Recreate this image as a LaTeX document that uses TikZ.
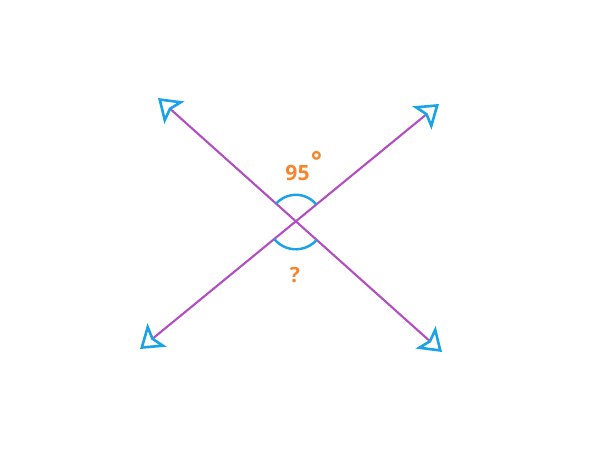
\documentclass[tikz,border=0pt]{standalone}
\usepackage{fontspec}
\setmainfont{Open Sans}
\usetikzlibrary{arrows.meta}

\definecolor{linepurple}{HTML}{B24EC2}
\definecolor{tipblue}{HTML}{1BA3E6}
\definecolor{labelorange}{HTML}{F5862E}

\tikzset{
	ray/.style={linepurple, line width=1.2pt,
		{Stealth[open, length=0.44cm, width=0.6cm, inset=0.09cm, line width=1.5pt, color=tipblue]}-{Stealth[open, length=0.44cm, width=0.6cm, inset=0.09cm, line width=1.5pt, color=tipblue]}},
	anglemark/.style={tipblue, line width=1.4pt},
	anglelabel/.style={labelorange, font=\fontsize{12}{14}\selectfont\bfseries, inner sep=0pt}
}

\begin{document}
\begin{tikzpicture}
				\useasboundingbox (0,0) rectangle (12,9);

				\coordinate (tl) at (3.16,7.04);
				\coordinate (br) at (8.84,1.96);
				\coordinate (bl) at (2.80,2.02);
				\coordinate (tr) at (8.78,6.92);
				\coordinate (O) at (intersection of tl--br and bl--tr);

				\draw [ray] (tl) -- (br);
				\draw [ray] (bl) -- (tr);

				\draw [anglemark] ([shift={(39.3:0.53)}]O) arc (39.3:138.3:0.53);
				\draw [anglemark] ([shift={(219.4:0.56)}]O) arc (219.4:318.1:0.56);

				\node [anglelabel] (top) at (5.95,5.55) {95};
				\node [anglelabel, right of=top, node distance=0.38cm, yshift=0.24cm, font=\fontsize{15}{16}\selectfont\bfseries] (deg) {°};
				\node [anglelabel] (bottom) at (5.90,3.50) {?};
			\end{tikzpicture}
\end{document}
